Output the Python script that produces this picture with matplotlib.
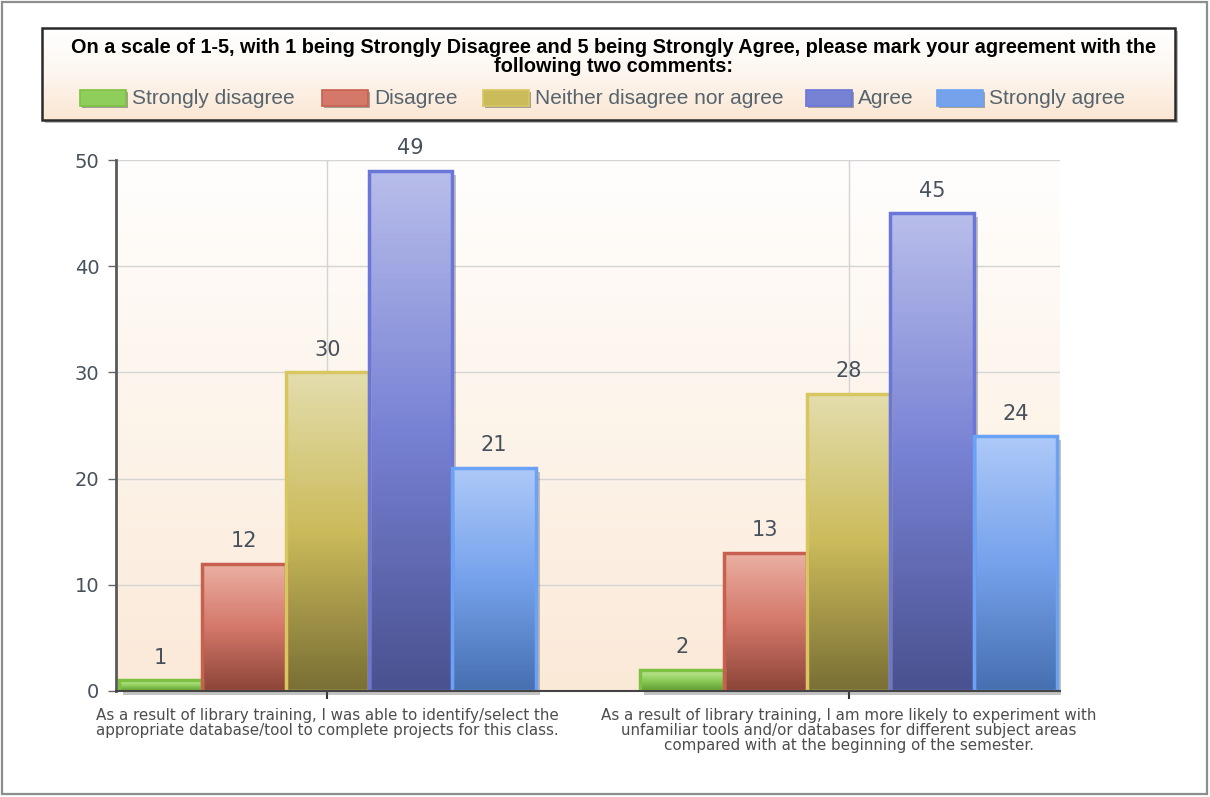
import numpy as np
import matplotlib
matplotlib.use('Agg')
import matplotlib.pyplot as plt
from matplotlib.colors import LinearSegmentedColormap
from matplotlib.patches import Rectangle
from matplotlib.transforms import offset_copy
from matplotlib import font_manager

# ---------------- data ----------------
categories = [
    "As a result of library training, I was able to identify/select the\nappropriate database/tool to complete projects for this class.",
    "As a result of library training, I am more likely to experiment with\nunfamiliar tools and/or databases for different subject areas\ncompared with at the beginning of the semester.",
]
series_names = ["Strongly disagree", "Disagree", "Neither disagree nor agree", "Agree", "Strongly agree"]
strongly_disagree = [1, 2]
disagree = [12, 13]
neither = [30, 28]
agree = [49, 45]
strongly_agree = [21, 24]
y_ticks = [0, 10, 20, 30, 40, 50]
title_text = ("On a scale of 1-5, with 1 being Strongly Disagree and 5 being Strongly Agree, "
              "please mark your agreement with the\nfollowing two comments:")

series_values = [strongly_disagree, disagree, neither, agree, strongly_agree]

# ---------------- styles ----------------
grad_colors = [
    ['#c8eaa0', '#8fce5a', '#5e9a32'],
    ['#eab0a3', '#d4786a', '#8c4538'],
    ['#e4ddad', '#cbbb5b', '#7a6f35'],
    ['#b8bdea', '#7882d4', '#4a5290'],
    ['#adc9f8', '#76a2ec', '#4670b0'],
]
edge_colors = ['#7dc142', '#c8604f', '#d8c660', '#6a76d8', '#6aa2f5']
flat_colors = ['#8fce5a', '#d4786a', '#cbbb5b', '#7882d4', '#76a2ec']
text_color = '#46515c'

def pick_font(cands):
    names = {f.name for f in font_manager.fontManager.ttflist}
    out = [c for c in cands if c in names]
    return out + ['DejaVu Sans']

narrow = pick_font(['Liberation Sans Narrow', 'Liberation Sans', 'Arimo'])

W, H = 1210, 797
fig = plt.figure(figsize=(W / 100, H / 100), dpi=100)
fig.patch.set_facecolor('white')

# overlay axes in pixel coordinates (for frame and legend box)
bg = fig.add_axes([0, 0, 1, 1], zorder=0)
bg.set_xlim(0, W)
bg.set_ylim(H, 0)
bg.axis('off')

# outer frame
bg.add_patch(Rectangle((2, 2), W - 5, H - 5, fill=False, edgecolor='#8e8e8e', lw=1.6))

# legend box with shadow and gradient
lx0, ly0, lx1, ly1 = 42, 28, 1175, 120
bg.add_patch(Rectangle((lx0 + 3, ly0 + 3), lx1 - lx0, ly1 - ly0, facecolor='#777777', alpha=0.5, lw=0))
lgrad = np.linspace(0, 1, 100).reshape(-1, 1)
lcm = LinearSegmentedColormap.from_list('lg', ['#ffffff', '#fdf6ef', '#fbe6d2'])
bg.imshow(lgrad, extent=(lx0, lx1, ly1, ly0), cmap=lcm, aspect='auto', zorder=1, origin='upper')
bg.add_patch(Rectangle((lx0, ly0), lx1 - lx0, ly1 - ly0, fill=False, edgecolor='#2a2a2a', lw=1.8, zorder=2))
bg.set_xlim(0, W)
bg.set_ylim(H, 0)

bg.text((lx0 + lx1) / 2 + 5, 57, title_text, ha='center', va='center', fontsize=14.3,
        fontweight='bold', family=narrow, color='black', linespacing=1.0, zorder=3)

legend_x = [80, 322, 483, 806, 937]
for i, name in enumerate(series_names):
    x = legend_x[i]
    bg.add_patch(Rectangle((x + 2, 90 + 2), 46, 16, facecolor='#555555', alpha=0.5, lw=0, zorder=3))
    bg.add_patch(Rectangle((x, 90), 46, 16, facecolor=flat_colors[i], edgecolor=edge_colors[i],
                           lw=1.2, zorder=4))
    bg.text(x + 52, 98, name, ha='left', va='center', fontsize=15, family=narrow,
            color='#56646e', zorder=4)

# ---------------- main axes ----------------
ax = fig.add_axes([116 / W, 1 - 691 / H, (1060 - 116) / W, (691 - 160) / H], zorder=1)
ax.set_facecolor('none')

# plot background gradient (white at top, peach at bottom)
bgrad = np.linspace(0, 1, 200).reshape(-1, 1)
bcm = LinearSegmentedColormap.from_list('bgc', ['#fffefd', '#fdf4ea', '#fbe9d8'])
ax.imshow(bgrad, extent=(0, 1, 0, 1), transform=ax.transAxes, cmap=bcm, aspect='auto',
          zorder=0, origin='upper')

x = np.arange(len(categories))
width = 0.16
n = len(series_names)

for i, vals in enumerate(series_values):
    pos = x + (i - (n - 1) / 2) * width
    # shadow
    ax.bar(pos, vals, width, color='#555555', alpha=0.35, lw=0, zorder=1.5, clip_on=False,
           transform=offset_copy(ax.transData, fig=fig, x=4, y=-4, units='dots'))
    bars = ax.bar(pos, vals, width, facecolor='none', edgecolor=edge_colors[i], lw=2.5, zorder=3)
    cmap = LinearSegmentedColormap.from_list('s%d' % i, grad_colors[i])
    for b in bars:
        x0, y0 = b.get_x(), b.get_y()
        w, h = b.get_width(), b.get_height()
        im = ax.imshow(np.linspace(0, 1, 100).reshape(-1, 1), extent=(x0, x0 + w, y0, y0 + h),
                       cmap=cmap, aspect='auto', origin='upper', zorder=2)
        im.set_clip_path(b)
    ax.bar_label(bars, labels=[str(v) for v in vals], padding=9, fontsize=15, color=text_color)

ax.set_xlim(-0.405, 1.405)
ax.set_ylim(0, 50)
ax.set_aspect('auto')

ax.set_yticks(y_ticks)
ax.set_yticklabels([str(t) for t in y_ticks], fontsize=14, color=text_color)
ax.set_xticks(x)
ax.set_xticklabels(categories, fontsize=10.9, color='#4d4d4d', linespacing=1.0)
ax.get_xticklabels()[0].set_multialignment('left')
ax.get_xticklabels()[1].set_multialignment('center')

ax.grid(True, color='#d4d4d4', lw=1.0, zorder=0.5)
ax.set_axisbelow(True)
ax.tick_params(axis='y', length=6, width=1, color='#666666', pad=6)
ax.tick_params(axis='x', length=6, width=1.5, color='#333333', pad=6)

for s in ['top', 'right']:
    ax.spines[s].set_visible(False)
ax.spines['left'].set_color('#5a5a5a')
ax.spines['left'].set_linewidth(2)
ax.spines['bottom'].set_color('#444444')
ax.spines['bottom'].set_linewidth(1.5)
ax.spines['left'].set_zorder(4)
ax.spines['bottom'].set_zorder(4)

fig.savefig('out.png', dpi=100)
